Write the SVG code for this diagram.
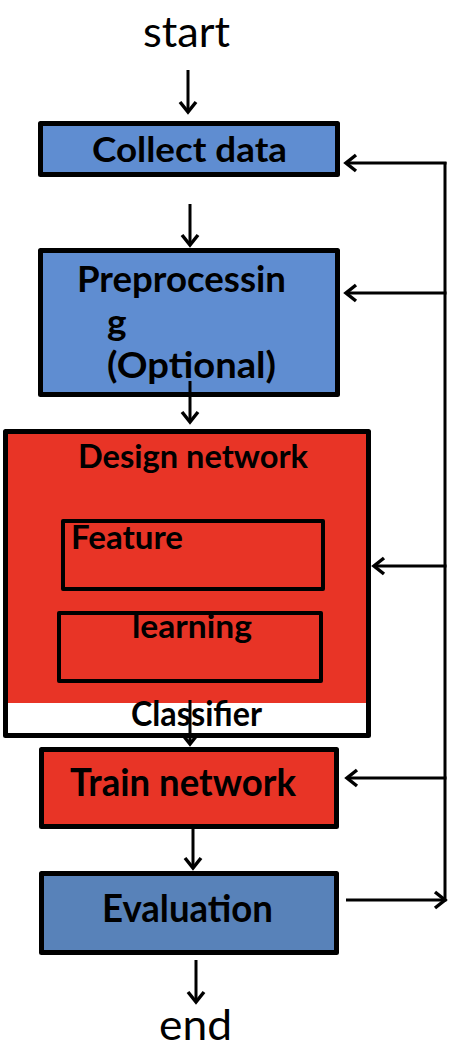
<svg xmlns="http://www.w3.org/2000/svg" width="450" height="1054" viewBox="0 0 450 1054">
<style>
.box{stroke:#000;stroke-width:5;stroke-linejoin:round}
.inner{fill:none;stroke:#000;stroke-width:4;stroke-linejoin:round}
.blue{fill:#5f8dd1}
.blue2{fill:#5882b9}
.red{fill:#e83426}
.t{font-family:Lato,"Open Sans","Liberation Sans",sans-serif;font-weight:bold;font-size:34px;fill:#000}
.s32{font-size:32px}
.s35{font-size:35px}
.s37{font-size:37px}
.s38{font-size:38px}
.big{font-family:Lato,"Open Sans","Liberation Sans",sans-serif;font-size:42px;fill:#000}
.c{fill:none;stroke:#000;stroke-width:3}
</style>
<defs>
<marker id="ah" markerUnits="userSpaceOnUse" markerWidth="24" markerHeight="24" viewBox="-12 -12 24 24" refX="0" refY="0" orient="auto">
<path d="M-10,-8 L0,0 L-10,8" fill="none" stroke="#000" stroke-width="3.5"/>
</marker>
</defs>
<g id="start"><text class="big" x="143" y="47" textLength="87" lengthAdjust="spacingAndGlyphs">start</text></g>
<g id="collect">
<rect class="box blue" x="40.5" y="123.5" width="297" height="51"/>
<text class="t s35" x="92" y="162" textLength="195" lengthAdjust="spacingAndGlyphs">Collect data</text>
</g>
<g id="preprocess">
<rect class="box blue" x="40.5" y="250.5" width="297" height="144"/>
<text class="t s37" x="77" y="292" textLength="209" lengthAdjust="spacingAndGlyphs">Preprocessin</text>
<text class="t s37" x="107" y="335">g</text>
<text class="t s37" x="107" y="378" textLength="169" lengthAdjust="spacingAndGlyphs">(Optional)</text>
</g>
<g id="design">
<rect x="5.5" y="431.5" width="363" height="272" class="red"/>
<rect x="5.5" y="703" width="363" height="32.5" fill="#fff"/>
<rect x="5.5" y="431.5" width="363" height="304" fill="none" stroke="#000" stroke-width="5" stroke-linejoin="round"/>
<text class="t s32" x="78" y="468" textLength="230" lengthAdjust="spacingAndGlyphs">Design network</text>
<rect class="inner" x="63" y="521" width="260" height="68"/>
<text class="t s32" x="71" y="549" textLength="112" lengthAdjust="spacingAndGlyphs">Feature</text>
<rect class="inner" x="59" y="613" width="262" height="68"/>
<text class="t s32" x="132" y="638" textLength="120" lengthAdjust="spacingAndGlyphs">learning</text>
<text class="t" x="131" y="726" textLength="131" lengthAdjust="spacingAndGlyphs">Classifier</text>
</g>
<g id="train">
<rect class="box red" x="41.5" y="749.5" width="295" height="77"/>
<text class="t s38" x="70" y="796" textLength="226" lengthAdjust="spacingAndGlyphs">Train network</text>
</g>
<g id="evaluation">
<rect class="box blue2" x="41.5" y="873.5" width="295" height="79"/>
<text class="t s38" x="102" y="922" textLength="171" lengthAdjust="spacingAndGlyphs">Evaluation</text>
</g>
<g id="end"><text class="big" x="159" y="1040" textLength="73" lengthAdjust="spacingAndGlyphs">end</text></g>
<g id="connectors">
<line class="c" x1="188" y1="70" x2="188" y2="112" marker-end="url(#ah)"/>
<line class="c" x1="190" y1="204" x2="190" y2="245" marker-end="url(#ah)"/>
<line class="c" x1="190" y1="381" x2="190" y2="422" marker-end="url(#ah)"/>
<line class="c" x1="190" y1="700" x2="190" y2="744" marker-end="url(#ah)"/>
<line class="c" x1="193" y1="829" x2="193" y2="868" marker-end="url(#ah)"/>
<line class="c" x1="196" y1="960" x2="196" y2="1002" marker-end="url(#ah)"/>
<line class="c" x1="346" y1="900" x2="445" y2="900" marker-end="url(#ah)"/>
<line class="c" x1="445" y1="901.5" x2="445" y2="162"/>
<line class="c" x1="446.5" y1="163" x2="346" y2="163" marker-end="url(#ah)"/>
<line class="c" x1="446.5" y1="293" x2="346" y2="293" marker-end="url(#ah)"/>
<line class="c" x1="446.5" y1="566" x2="374" y2="566" marker-end="url(#ah)"/>
<line class="c" x1="446.5" y1="778" x2="347" y2="778" marker-end="url(#ah)"/>
</g>
</svg>
